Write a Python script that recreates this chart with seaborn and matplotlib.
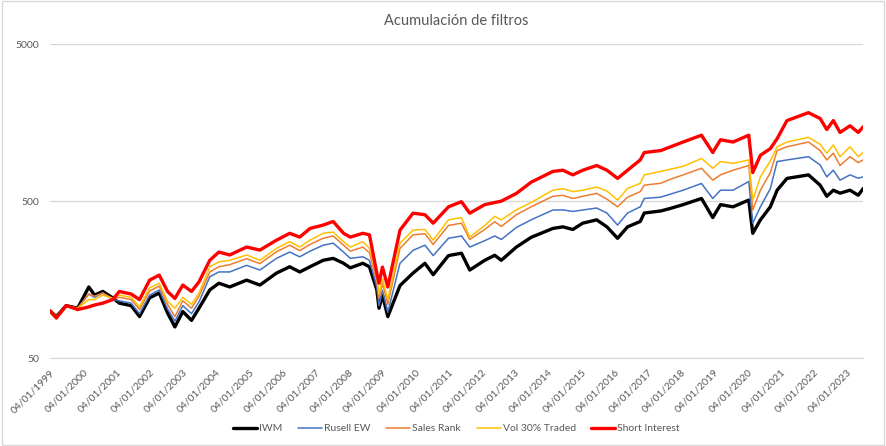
import matplotlib
matplotlib.use("Agg")
import matplotlib.pyplot as plt
import matplotlib.dates as mdates
from matplotlib.ticker import FixedLocator, FixedFormatter, NullLocator
from matplotlib.patches import Rectangle
import seaborn as sns
import pandas as pd

# values (base 100, log scale)
dates = [
    "1999-01-04", "1999-03-15", "1999-07-01", "1999-11-05", "2000-03-06",
    "2000-05-08", "2000-08-07", "2000-11-24", "2001-02-05", "2001-06-15",
    "2001-09-15", "2002-01-04", "2002-04-20", "2002-07-20", "2002-10-09",
    "2003-01-04", "2003-04-10", "2003-07-01", "2003-10-28", "2004-02-05",
    "2004-06-03", "2004-12-06", "2005-05-01", "2005-10-30", "2006-03-25",
    "2006-07-13", "2006-11-03", "2007-03-28", "2007-07-16", "2007-11-07",
    "2008-01-20", "2008-06-06", "2008-08-18", "2008-11-07", "2008-12-01",
    "2009-01-08", "2009-03-08", "2009-07-20", "2009-12-10", "2010-04-20",
    "2010-07-20", "2011-01-04", "2011-05-27", "2011-08-26", "2012-02-07",
    "2012-05-27", "2012-08-07", "2013-01-20", "2013-07-01", "2014-02-25",
    "2014-06-15", "2014-10-03", "2015-01-20", "2015-06-22", "2015-10-13",
    "2016-02-07", "2016-05-27", "2016-10-13", "2016-11-27", "2017-05-27",
    "2017-09-13", "2018-01-28", "2018-08-18", "2018-12-20", "2019-03-15",
    "2019-07-31", "2020-01-20", "2020-03-04", "2020-05-27", "2020-09-13",
    "2020-11-27", "2021-03-15", "2021-11-07", "2022-03-15", "2022-05-27",
    "2022-08-07", "2022-10-20", "2023-02-07", "2023-05-08", "2023-07-03",
]

iwm = [
    100, 92, 108, 104, 142, 126, 133, 121, 112, 108,
    92, 121, 130, 97, 79, 99, 87, 104, 136, 150,
    142, 157, 146, 174, 191, 177, 191, 210, 216, 201,
    188, 201, 191, 136, 104, 126, 92, 145, 174, 201,
    170, 225, 233, 182, 210, 226, 210, 255, 294, 335,
    343, 330, 362, 380, 343, 290, 343, 371, 420, 433,
    450, 475, 520, 393, 475, 460, 508, 312, 380, 460,
    587, 698, 735, 632, 537, 587, 562, 587, 545, 603,
]

russell_ew = [
    100, 92, 108, 104, 128, 122, 130, 118, 116, 112,
    96, 126, 136, 103, 86, 108, 96, 114, 165, 177,
    177, 195, 182, 216, 237, 221, 240, 262, 270, 237,
    216, 221, 210, 142, 108, 135, 98, 201, 243, 262,
    225, 290, 300, 255, 280, 300, 285, 340, 380, 439,
    440, 430, 439, 452, 420, 352, 420, 460, 520, 530,
    555, 587, 648, 520, 587, 587, 667, 362, 460, 600,
    893, 915, 960, 850, 714, 787, 680, 735, 700, 714,
]

sales_rank = [
    100, 92, 108, 104, 128, 124, 130, 120, 122, 118,
    102, 134, 144, 110, 92, 116, 104, 124, 177, 191,
    197, 215, 200, 238, 262, 242, 265, 290, 300, 262,
    240, 255, 235, 155, 120, 150, 110, 250, 305, 310,
    265, 350, 362, 285, 330, 370, 345, 410, 460, 537,
    545, 520, 537, 560, 515, 460, 530, 575, 632, 650,
    690, 735, 810, 680, 735, 787, 843, 439, 587, 760,
    1050, 1110, 1190, 1050, 915, 1010, 843, 960, 880, 915,
]

vol_30 = [
    100, 92, 108, 104, 118, 118, 126, 120, 126, 122,
    106, 140, 150, 115, 104, 122, 110, 130, 191, 205,
    210, 227, 210, 250, 276, 255, 282, 312, 318, 276,
    255, 276, 250, 165, 128, 160, 118, 270, 327, 330,
    282, 380, 393, 295, 350, 400, 380, 440, 490, 587,
    600, 575, 587, 615, 580, 508, 603, 648, 735, 773,
    800, 833, 935, 810, 893, 870, 915, 508, 714, 900,
    1110, 1190, 1275, 1150, 1010, 1140, 960, 1110, 960, 1020,
]

short_interest = [
    100, 90, 108, 102, 106, 109, 112, 118, 133, 128,
    118, 157, 169, 133, 120, 146, 133, 153, 210, 237,
    227, 255, 244, 282, 312, 295, 335, 352, 371, 312,
    295, 312, 305, 174, 150, 190, 142, 327, 419, 410,
    362, 460, 496, 419, 475, 490, 500, 560, 660, 773,
    787, 735, 787, 843, 787, 698, 787, 915, 1020, 1050,
    1110, 1190, 1315, 1020, 1230, 1190, 1315, 760, 980, 1080,
    1250, 1630, 1830, 1680, 1430, 1630, 1370, 1510, 1370, 1490,
]

series = [
    ("IWM", iwm, "#000000", 2.4),
    ("Rusell EW", russell_ew, "#4472C4", 1.1),
    ("Sales Rank", sales_rank, "#ED7D31", 1.1),
    ("Vol 30% Traded", vol_30, "#FFC000", 1.1),
    ("Short Interest", short_interest, "#FF0000", 2.4),
]

y_ticks = [50, 500, 5000]
x_ticks = [pd.Timestamp(f"{y}-01-04") for y in range(1999, 2024)]

sns.set_style("white")
plt.rcParams['font.family'] = ['Lato', 'DejaVu Sans']
grey = "#595959"

fig = plt.figure(figsize=(8.86, 4.46), dpi=100)
ax = fig.add_axes([0.0564, 0.197, 0.918, 0.704])

x = pd.to_datetime(dates)
for name, vals, color, lw in series:
    sns.lineplot(x=x, y=vals, ax=ax, color=color, lw=lw, label=name)

ax.set_yscale("log")
ax.set_ylim(50, 5000)
ax.yaxis.set_major_locator(FixedLocator(y_ticks))
ax.yaxis.set_major_formatter(FixedFormatter([str(v) for v in y_ticks]))
ax.yaxis.set_minor_locator(NullLocator())
ax.grid(axis="y", color="#D9D9D9", lw=1)
ax.set_axisbelow(True)

ax.set_xlim(x[0], x[-1])
ax.set_xticks(x_ticks)
ax.xaxis.set_major_formatter(mdates.DateFormatter("%d/%m/%Y"))
plt.setp(ax.get_xticklabels(), rotation=45, ha="right", rotation_mode="anchor")
ax.tick_params(axis="x", length=4, color="#D9D9D9", labelsize=7.5, labelcolor=grey, pad=3)
ax.tick_params(axis="y", length=0, labelsize=7.5, labelcolor=grey, pad=8)
ax.set_xlabel("")
ax.set_ylabel("")

for side in ["top", "right", "left"]:
    ax.spines[side].set_visible(False)
ax.spines["bottom"].set_color("#D9D9D9")

ax.set_title("Acumulación de filtros", fontsize=10.5, color=grey, pad=14)

ax.legend(loc="center", bbox_to_anchor=(0.5, -0.225), ncol=5, frameon=False,
          fontsize=7.5, labelcolor=grey, handlelength=2.3, handletextpad=0.2,
          columnspacing=1.5)

fig.patches.append(Rectangle((0.002, 0.003), 0.996, 0.994, transform=fig.transFigure,
                             fill=False, edgecolor="#D9D9D9", lw=1))

fig.savefig("out.png", dpi=100)
